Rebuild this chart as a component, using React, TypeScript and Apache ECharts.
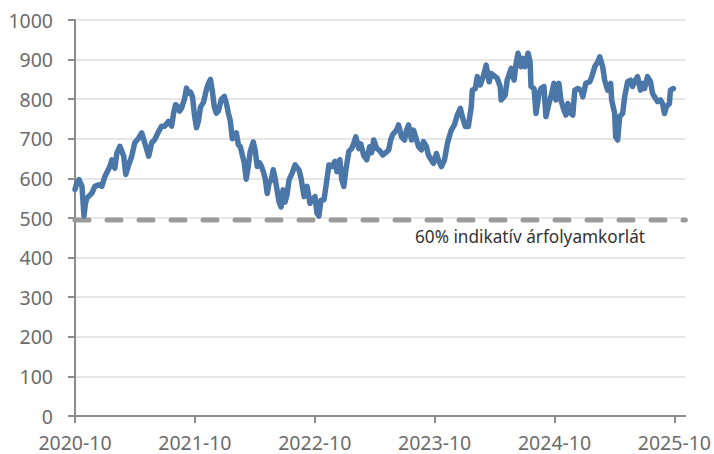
import React, { useEffect, useRef } from "react";
import * as echarts from "echarts";

// Months since 2020-10 (x) and index value (y)
const months: number[] = [
  0.0, 0.2, 0.4, 0.7, 0.9, 1.05, 1.2, 1.69, 1.99, 2.39, 2.69, 2.99, 3.49, 3.69, 3.99, 4.19, 4.49, 4.88, 5.08, 5.38,
  5.68, 5.98, 6.38, 6.68, 6.98, 7.18, 7.38, 7.68, 7.98, 8.38, 8.68, 8.97, 9.37, 9.67, 9.87, 10.07, 10.27, 10.47, 10.67, 10.96,
  11.16, 11.36, 11.56, 11.76, 11.96, 12.16, 12.36, 12.56, 12.86, 13.16, 13.36, 13.56, 13.75, 13.95, 14.15, 14.35, 14.65, 14.95, 15.15, 15.35,
  15.55, 15.75, 15.95, 16.15, 16.35, 16.55, 16.74, 16.94, 17.14, 17.34, 17.54, 17.84, 18.04, 18.24, 18.44, 18.64, 18.84, 19.04, 19.24, 19.44,
  19.64, 19.84, 20.03, 20.23, 20.43, 20.63, 20.83, 21.03, 21.23, 21.43, 21.73, 22.03, 22.43, 22.63, 22.93, 23.23, 23.52, 23.72, 24.02, 24.22,
  24.42, 24.62, 24.92, 25.12, 25.42, 25.72, 26.02, 26.22, 26.51, 26.71, 26.91, 27.11, 27.41, 27.71, 27.91, 28.11, 28.41, 28.61, 28.9, 29.2,
  29.5, 29.7, 29.9, 30.2, 30.5, 30.8, 31.1, 31.4, 31.6, 31.79, 32.19, 32.39, 32.69, 32.99, 33.19, 33.39, 33.69, 33.89, 34.19, 34.39,
  34.68, 34.88, 35.18, 35.38, 35.68, 35.88, 36.18, 36.38, 36.68, 36.98, 37.28, 37.67, 37.97, 38.27, 38.57, 38.77, 39.07, 39.37, 39.67, 39.77,
  40.07, 40.27, 40.57, 40.86, 41.16, 41.46, 41.66, 42.06, 42.26, 42.56, 42.66, 43.06, 43.26, 43.66, 43.95, 44.15, 44.35, 44.65, 44.85, 45.05,
  45.35, 45.55, 45.65, 45.95, 46.15, 46.45, 46.64, 46.94, 47.14, 47.44, 47.64, 47.94, 48.14, 48.44, 48.64, 48.94, 49.14, 49.34, 49.63, 49.83,
  50.03, 50.33, 50.63, 50.83, 51.13, 51.53, 51.73, 52.03, 52.33, 52.53, 52.82, 53.02, 53.32, 53.62, 53.72, 54.02, 54.12, 54.32, 54.52, 54.82,
  55.02, 55.32, 55.62, 55.82, 56.01, 56.31, 56.61, 56.81, 57.01, 57.31, 57.61, 57.81, 58.01, 58.31, 58.61, 58.81, 59.01, 59.2, 59.5, 59.6,
  59.9,
];

const values: number[] = [
  572, 590, 597, 580, 505, 538, 550, 563, 580, 584, 580, 605, 630, 647, 626, 664, 681, 656, 610, 635,
  656, 690, 702, 715, 690, 673, 656, 690, 698, 719, 732, 732, 744, 732, 765, 786, 782, 770, 778, 800,
  828, 815, 818, 806, 760, 728, 745, 780, 792, 825, 840, 850, 820, 780, 765, 770, 800, 807, 790, 765,
  745, 700, 710, 715, 685, 680, 660, 640, 598, 630, 668, 692, 670, 630, 640, 632, 618, 600, 562, 590,
  595, 622, 600, 570, 540, 528, 571, 540, 560, 596, 613, 634, 621, 600, 554, 580, 537, 546, 554, 512,
  505, 545, 546, 580, 634, 630, 643, 617, 647, 596, 580, 621, 668, 676, 689, 705, 675, 687, 658, 647,
  680, 665, 697, 676, 670, 659, 665, 672, 697, 710, 722, 735, 705, 697, 722, 735, 697, 722, 697, 680,
  672, 693, 680, 659, 646, 638, 663, 646, 630, 646, 689, 722, 735, 760, 777, 756, 731, 731, 782, 823,
  827, 857, 836, 857, 886, 844, 865, 857, 853, 832, 798, 810, 848, 878, 848, 890, 916, 882, 903, 882,
  916, 895, 832, 827, 764, 815, 827, 832, 756, 789, 806, 840, 798, 840, 798, 773, 760, 789, 764, 760,
  823, 827, 823, 806, 840, 844, 857, 882, 895, 907, 882, 848, 823, 840, 798, 764, 705, 697, 756, 764,
  806, 844, 848, 832, 844, 857, 823, 840, 827, 857, 844, 815, 806, 794, 798, 789, 764, 781, 789, 823,
  827,
];

const limitValue = 495;
const limitLabel = "60% indikatív árfolyamkorlát";
const xTickMonths: number[] = [0, 12, 24, 36, 48, 60];
const xTickLabels: string[] = ["2020-10", "2021-10", "2022-10", "2023-10", "2024-10", "2025-10"];
const xMin = 0;
const xMax = 61.1;

const FONT = "'Noto Sans', sans-serif";

export default function App() {
  const ref = useRef<HTMLDivElement>(null);
  useEffect(() => {
    if (!ref.current) return;
    const chart = echarts.init(ref.current, null, { renderer: "svg" });
    const lineData = months.map((m, i) => [m, values[i]]);
    const limitData = [
      [xMin, limitValue],
      [xMax, limitValue],
    ];
    chart.setOption({
      animation: false,
      backgroundColor: "#ffffff",
      grid: { left: 75, right: 26, top: 20, bottom: 38, containLabel: false },
      xAxis: {
        type: "value",
        min: xMin,
        max: xMax,
        axisLine: { show: true, lineStyle: { color: "#8c8c8c", width: 2 } },
        axisTick: {
          show: true,
          length: 7,
          customValues: xTickMonths,
          lineStyle: { color: "#8c8c8c", width: 2 },
        },
        axisLabel: {
          customValues: xTickMonths,
          formatter: (v: number) => {
            const idx = xTickMonths.indexOf(Math.round(v));
            return idx >= 0 ? xTickLabels[idx] : "";
          },
          color: "#6b6b6b",
          fontSize: 19.5,
          fontFamily: FONT,
          margin: 16,
        },
        splitLine: { show: false },
      },
      yAxis: {
        type: "value",
        min: 0,
        max: 1000,
        interval: 100,
        axisLine: { show: true, lineStyle: { color: "#8c8c8c", width: 2 } },
        axisTick: { show: true, length: 7, lineStyle: { color: "#8c8c8c", width: 2 } },
        axisLabel: {
          color: "#6b6b6b",
          fontSize: 19.5,
          fontFamily: FONT,
          margin: 22,
          formatter: (v: number) => String(v),
        },
        splitLine: { show: true, lineStyle: { color: "#dedede", width: 1.5 } },
      },
      series: [
        {
          type: "line",
          data: limitData,
          showSymbol: false,
          silent: true,
          z: 1,
          lineStyle: { color: "#9a9a9a", width: 5, type: [14, 18], cap: "round" },
        },
        {
          type: "line",
          data: lineData,
          showSymbol: false,
          z: 2,
          lineStyle: { color: "#4a76a8", width: 5.5, join: "round", cap: "round" },
        },
      ],
      graphic: [
        {
          type: "text",
          left: 415,
          top: 228,
          style: {
            text: limitLabel,
            fill: "#333333",
            fontSize: 17.2,
            fontFamily: FONT,
          },
        },
      ],
    });
    return () => chart.dispose();
  }, []);
  return <div ref={ref} style={{ width: 714, height: 454, position: "fixed", left: 0, top: 0 }} />;
}
